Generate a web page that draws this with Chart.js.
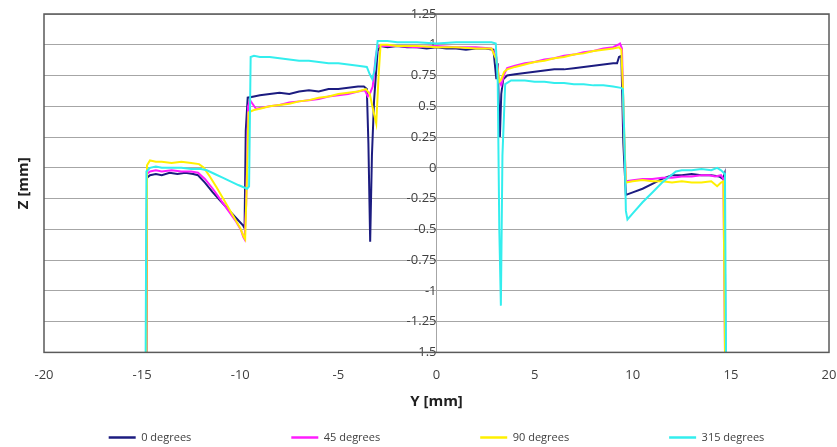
<!DOCTYPE html>
<html>
<head>
<meta charset="utf-8">
<script src="https://cdn.jsdelivr.net/npm/chart.js@4.4.0/dist/chart.umd.min.js"></script>
<style>
  html, body { margin: 0; padding: 0; background: #fff; }
</style>
</head>
<body>
<canvas id="profile" width="837" height="447"></canvas>
<script>
// Profile data: Y position [mm] and Z height [mm] per angle
const y0 = [-14.78,-14.75,-14.6,-14.3,-14.0,-13.6,-13.2,-12.8,-12.4,-12.15,-11.8,-11.4,-11.0,-10.6,-10.2,-9.85,-9.78,-9.72,-9.62,-9.3,-9.0,-8.5,-8.0,-7.5,-7.0,-6.5,-6.0,-5.5,-5.0,-4.5,-4.0,-3.7,-3.55,-3.47,-3.38,-3.29,-3.18,-3.0,-2.85,-2.5,-2.0,-1.5,-1.0,-0.5,0,0.5,1.0,1.5,2.0,2.5,2.9,3.05,3.12,3.17,3.23,3.3,3.4,3.6,4.0,4.5,5.0,5.5,6.0,6.5,7.0,7.5,8.0,8.5,9.0,9.2,9.3,9.42,9.52,9.65,10.0,10.5,11.0,11.5,12.0,12.5,13.0,13.5,14.0,14.4,14.6,14.68,14.72];
const z0 = [-1.5,-0.08,-0.06,-0.05,-0.06,-0.04,-0.05,-0.04,-0.05,-0.06,-0.12,-0.2,-0.27,-0.34,-0.41,-0.47,-0.49,0.3,0.57,0.58,0.59,0.6,0.61,0.6,0.62,0.63,0.62,0.64,0.64,0.65,0.66,0.66,0.64,0.2,-0.6,0.1,0.55,0.95,0.99,0.98,0.99,0.98,0.98,0.97,0.98,0.97,0.97,0.96,0.97,0.97,0.96,0.72,0.85,0.55,0.25,0.6,0.72,0.75,0.76,0.77,0.78,0.79,0.8,0.8,0.81,0.82,0.83,0.84,0.85,0.85,0.9,0.91,0.2,-0.22,-0.2,-0.17,-0.13,-0.09,-0.06,-0.06,-0.05,-0.06,-0.06,-0.07,-0.09,-0.05,-1.5];

const y45 = [-14.78,-14.75,-14.6,-14.3,-14.0,-13.5,-13.0,-12.5,-12.15,-11.8,-11.4,-11.0,-10.6,-10.2,-9.95,-9.85,-9.78,-9.7,-9.6,-9.5,-9.2,-8.5,-8.0,-7.5,-7.0,-6.5,-6.0,-5.5,-5.0,-4.5,-4.0,-3.65,-3.5,-3.4,-3.25,-3.1,-3.0,-2.7,-2.0,-1.0,0,1.0,2.0,2.8,3.05,3.2,3.3,3.45,3.6,4.0,4.5,5.0,5.5,6.0,6.5,7.0,7.5,8.0,8.5,9.0,9.25,9.35,9.45,9.55,9.65,10.0,10.5,11.0,11.5,12.0,12.5,13.0,13.5,13.9,14.2,14.5,14.62,14.7];
const z45 = [-1.5,-0.05,-0.03,-0.02,-0.03,-0.02,-0.03,-0.03,-0.04,-0.09,-0.17,-0.26,-0.35,-0.44,-0.51,-0.56,-0.58,-0.3,0.5,0.55,0.48,0.5,0.51,0.53,0.54,0.55,0.56,0.58,0.59,0.6,0.62,0.63,0.58,0.6,0.66,0.9,0.99,0.99,0.99,0.98,0.99,0.98,0.98,0.97,0.9,0.7,0.67,0.76,0.81,0.83,0.85,0.86,0.88,0.89,0.91,0.92,0.94,0.95,0.97,0.98,1.0,1.01,0.97,0.3,-0.11,-0.1,-0.09,-0.09,-0.08,-0.08,-0.07,-0.07,-0.06,-0.06,-0.07,-0.06,-0.09,-1.5];

const y90 = [-14.78,-14.75,-14.6,-14.3,-14.0,-13.5,-13.0,-12.5,-12.1,-11.85,-11.55,-11.2,-10.8,-10.4,-10.0,-9.82,-9.75,-9.68,-9.58,-9.3,-9.0,-8.5,-8.0,-7.5,-7.0,-6.5,-6.0,-5.5,-5.0,-4.5,-4.0,-3.6,-3.4,-3.2,-3.07,-2.95,-2.85,-2.5,-2.0,-1.0,0,1.0,2.0,2.8,3.05,3.2,3.3,3.45,3.6,4.0,4.5,5.0,5.5,6.0,6.5,7.0,7.5,8.0,8.5,9.0,9.3,9.42,9.5,9.58,9.65,10.0,10.5,11.0,11.5,12.0,12.5,13.0,13.5,14.0,14.3,14.5,14.62,14.7];
const z90 = [-1.5,0.02,0.06,0.05,0.05,0.04,0.05,0.04,0.03,0.0,-0.07,-0.16,-0.27,-0.38,-0.49,-0.56,-0.58,-0.2,0.45,0.47,0.48,0.5,0.51,0.52,0.54,0.55,0.57,0.58,0.6,0.61,0.62,0.64,0.6,0.45,0.36,0.75,1.0,1.0,0.99,0.99,0.98,0.98,0.97,0.97,0.88,0.7,0.72,0.78,0.8,0.82,0.84,0.86,0.87,0.89,0.9,0.92,0.93,0.95,0.96,0.97,0.98,0.96,0.65,0.2,-0.12,-0.11,-0.1,-0.11,-0.11,-0.12,-0.11,-0.12,-0.12,-0.11,-0.15,-0.12,-0.11,-1.5];

const y315 = [-14.82,-14.78,-14.6,-14.3,-14.0,-13.5,-13.0,-12.5,-12.0,-11.7,-11.3,-10.9,-10.5,-10.1,-9.8,-9.65,-9.55,-9.47,-9.3,-9.0,-8.5,-8.0,-7.5,-7.0,-6.5,-6.0,-5.5,-5.0,-4.5,-4.0,-3.55,-3.4,-3.27,-3.15,-3.0,-2.5,-2.0,-1.0,0,1.0,2.0,2.8,3.02,3.12,3.2,3.28,3.36,3.5,3.8,4.5,5.0,5.5,6.0,6.5,7.0,7.5,8.0,8.5,9.0,9.4,9.5,9.58,9.65,9.73,10.0,10.5,11.0,11.5,12.2,12.5,13.0,13.5,14.0,14.3,14.5,14.7,14.75];
const z315 = [-1.5,-0.03,0.0,0.01,0.0,0.0,0.0,-0.01,-0.01,-0.02,-0.05,-0.08,-0.11,-0.14,-0.16,-0.17,-0.15,0.9,0.91,0.9,0.9,0.89,0.88,0.87,0.87,0.86,0.85,0.85,0.84,0.83,0.82,0.76,0.72,0.8,1.03,1.03,1.02,1.02,1.01,1.02,1.02,1.02,1.01,0.7,-0.5,-1.12,0.1,0.68,0.71,0.71,0.7,0.7,0.69,0.69,0.68,0.68,0.67,0.67,0.66,0.65,0.64,0.2,-0.35,-0.42,-0.37,-0.28,-0.2,-0.12,-0.03,-0.02,-0.02,-0.01,-0.02,0.0,-0.02,-0.05,-1.5];

const seriesNames = ['0 degrees', '45 degrees', '90 degrees', '315 degrees'];
const seriesColors = ['#1c1c80', '#ff1cff', '#fff000', '#33eeee'];

Chart.defaults.font.family = "'Open Sans', sans-serif";
Chart.defaults.color = '#404040';

function toPoints(ys, zs) {
    return ys.map((y, i) => ({ x: y, y: zs[i] }));
}

// Dark frame around the plot area, like the spreadsheet original
const plotFrame = {
    id: 'plotFrame',
    afterDraw(chart) {
        const { ctx, chartArea: a } = chart;
        ctx.save();
        ctx.strokeStyle = '#5a5a5a';
        ctx.lineWidth = 1.5;
        ctx.strokeRect(a.left, a.top, a.right - a.left, a.bottom - a.top);
        ctx.restore();
    }
};

// keep tick label overhang from shrinking the plot area
function noEdgePadding(scale) {
    scale.paddingTop = 0;
    scale.paddingBottom = 0;
    scale.paddingLeft = 0;
    scale.paddingRight = 0;
}

const pairs = [[y0, z0], [y45, z45], [y90, z90], [y315, z315]];
const datasets = pairs.map((p, i) => ({
    label: seriesNames[i],
    data: toPoints(p[0], p[1]),
    borderColor: seriesColors[i],
    backgroundColor: seriesColors[i],
    borderWidth: 2,
    pointRadius: 0,
    tension: 0,
    order: pairs.length - i   // later series drawn on top
}));

new Chart(document.getElementById('profile'), {
    type: 'line',
    data: { datasets },
    plugins: [plotFrame],
    options: {
        responsive: false,
        animation: false,
        layout: { padding: { left: 9, right: 8, top: 14, bottom: -6 } },
        plugins: {
            tooltip: { enabled: false },
            legend: {
                position: 'bottom',
                fullSize: false,
                labels: {
                    usePointStyle: true,
                    pointStyle: 'line',
                    pointStyleWidth: 27,
                    padding: 12,
                    font: { size: 11 },
                    color: '#404040',
                    generateLabels(chart) {
                        const items = Chart.defaults.plugins.legend.labels.generateLabels(chart);
                        items.sort((a, b) => a.datasetIndex - b.datasetIndex);
                        items.forEach((it, i) => {
                            it.lineWidth = 2.5;
                            if (i < items.length - 1) it.text += '\u2003'.repeat(8);
                        });
                        return items;
                    }
                }
            }
        },
        scales: {
            x: {
                type: 'linear',
                min: -20,
                max: 20,
                afterFit: noEdgePadding,
                ticks: { stepSize: 5, padding: 15, font: { size: 13 } },
                grid: { display: false, drawTicks: false },
                border: { display: false },
                title: {
                    display: true,
                    text: 'Y [mm]',
                    color: '#202020',
                    font: { size: 15, weight: 'bold' },
                    padding: { top: -5.5, bottom: 9.5 }
                }
            },
            y: {
                type: 'linear',
                position: { x: 0 },
                min: -1.5,
                max: 1.25,
                afterFit: noEdgePadding,
                ticks: {
                    stepSize: 0.25,
                    padding: 15,
                    font: { size: 13 },
                    callback: v => String(Math.round(v * 100) / 100)
                },
                grid: { color: '#a6a6a6', lineWidth: 1, drawTicks: false },
                border: { display: true, color: '#a6a6a6' }
            },
            yTitle: {
                type: 'linear',
                position: 'left',
                min: -1.5,
                max: 1.25,
                afterFit: noEdgePadding,
                ticks: { display: false },
                grid: { display: false, drawTicks: false },
                border: { display: false },
                title: {
                    display: true,
                    text: 'Z [mm]',
                    color: '#202020',
                    font: { size: 15, weight: 'bold' },
                    padding: { top: 6, bottom: 11 }
                }
            }
        }
    }
});
</script>
</body>
</html>
